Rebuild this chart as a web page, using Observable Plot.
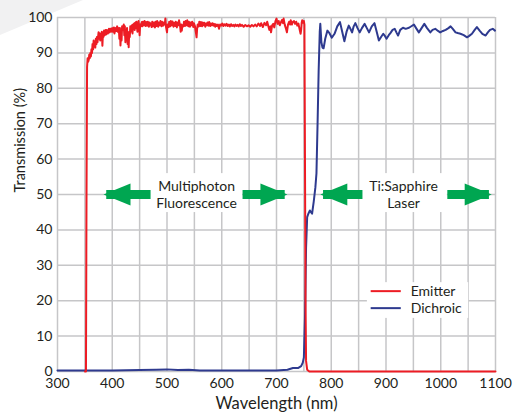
<!DOCTYPE html>
<html><head><meta charset="utf-8">
<script src="https://cdn.jsdelivr.net/npm/d3@7"></script>
<script src="https://cdn.jsdelivr.net/npm/@observablehq/plot@0.6"></script>
<style>
body{margin:0;background:#fff;}
#wrap{position:relative;width:513px;height:415px;overflow:hidden;}
#corner{position:absolute;left:0;top:0;width:90px;height:40px;background:#f1f1f2;clip-path:polygon(0 0,83px 0,0 35px);}
#chart{position:absolute;left:0;top:0;}
</style></head><body>
<div id="wrap"><div id="corner"></div><div id="chart"></div></div>
<script>
// ---- data ----
const emitterWl = [350,352,353,354,355,356,357,358,359,360,361,362,363,364,365,366,367,368,369,370,371,372,373,375,376,377,378,379,380,381,382,383,384,385,386,388,389,390,392,394,395,397,398,400,401,403,404,406,407,409,410,412,413,414,415,416,417,418,419,421,422,423,424,425,426,427,428,429,430,431,432,433,434,436,437,438,439,440,441,442,443,444,445,446,447,448,449,450,451,452,454,455,456,458,459,461,462,464,465,467,468,470,472,473,475,476,478,479,481,482,484,485,487,488,490,491,493,494,496,497,498,500,501,503,504,506,507,509,510,512,513,515,516,518,519,521,522,524,525,526,527,528,530,531,533,534,536,537,539,540,542,543,545,546,548,549,551,552,553,554,555,556,558,559,561,562,564,565,567,568,570,571,573,574,576,577,579,580,582,583,585,586,588,589,591,593,595,597,599,601,603,605,607,609,611,613,615,617,619,621,623,625,627,629,631,633,635,637,640,643,646,649,652,655,658,661,664,667,670,672,675,678,681,683,685,687,689,690,692,694,696,698,700,702,704,706,708,710,712,713,715,717,719,721,723,725,726,728,730,732,734,736,738,740,742,744,745,746,747,749,750,751,752,753,754,756,760,1100];
const emitterT = [0,0,50,86,88.5,87.5,88,89.5,88.5,90,89,91,90,92.5,91,93.5,92,93,91.5,94,92.5,94.5,93,95.8,94,95.5,93.5,95.5,94.5,96,92,95.5,94.5,96.3,95,96.5,95.2,96.5,95.5,96.8,95.8,96.8,96,97,96,97.2,95.5,97,96.2,97.5,96,97,94,97,92.1,96,93.5,97.5,96.5,98,95,97.5,93,96.5,94.5,97,92.5,95,91.6,96,94.5,97.5,96,97.8,95.5,98,97,98.3,96.5,98.5,97,98.8,97.5,96,98.5,99,97.5,95,98,97.5,98.7,97.5,98.8,97.8,99,97.6,98.7,97.7,98.8,97.4,98.6,98.2,97.3,98.8,97.5,98.6,97.2,98.8,97.6,99,97.4,98.6,97.8,99,97.5,98.8,97.7,98.6,98,99.7,97.5,95.8,98,97.3,98.8,97.5,99,97.8,98.9,97.4,98.5,97.6,98.8,97.2,98.6,97.8,99.2,97.5,96,98,96.3,97.8,97.5,98.8,97.6,99,97.8,99.2,97.5,98.8,97.4,98.6,97.8,98.8,97.3,98.4,97.6,96.5,95.5,94.4,96.8,98,97.5,98.8,97.6,98.7,97.5,98.6,97.8,98.5,97.4,98.3,97.8,98.6,97.7,98.7,97.6,98.3,97.8,98.4,97.7,98.2,97.4,98.1,97.6,98,96.8,98,97.7,98.3,97.6,98.1,97.7,98.2,97.6,98,97.5,98.1,97.6,97.9,97.5,98,97.6,97.9,97.5,98.1,97.6,97.9,97.4,97.9,97.5,97.8,97.4,97.9,97.5,98,97.5,98.3,97.6,98.4,97.3,98.5,97.8,98.8,97.6,96.5,97.5,95.8,97.8,98.2,97.2,98.9,99.7,98.2,99,97.8,98.6,99.3,98.4,99.7,98,97,95.8,98,98.8,98,99.2,98,98.8,99,98.2,98.8,97.7,98.3,96.8,95.4,96.5,98.5,99.2,98.5,99,98,60,20,3,0.5,0,0];

const dichroicWl = [300,400,450,480,500,520,540,560,600,700,720,730,740,745,748,750,752,754,756,758,761,763,765,768,771,773,775,777,779,780,782,784,786,789,793,797,801,806,811,816,820,824,828,832,835,838,841,844,848,852,856,861,865,869,874,879,883,887,891,895,898,901,905,908,912,916,919,922,926,931,936,942,947,951,955,960,965,970,975,981,985,990,995,999,1004,1009,1014,1018,1022,1027,1031,1036,1042,1048,1052,1057,1062,1066,1071,1076,1082,1086,1090,1095,1099];
const dichroicT = [0.3,0.3,0.4,0.5,0.6,0.4,0.5,0.3,0.3,0.3,0.5,1,1,1.5,2.5,4,15,35,43.6,44.5,45.5,45,44.6,48,52,56,70,85,96,98.2,93,91.5,91.3,94,96.3,95.5,94.3,95.4,97.5,98.7,96,93.3,96,97.7,96.8,95.8,97.5,98.4,97,95.8,97,98.2,97,95.8,97.5,98.4,96,93.5,94.5,95.4,94.8,94,95,95.6,96.5,96.8,95.8,94.9,96.5,97.1,96.8,97.1,97.6,98,97,95.8,97,98.2,97,95.8,96.5,96.8,96.2,95.8,96.2,96.5,97,97.5,96.8,95.8,95.6,95.4,95,94.4,94.8,95.4,96.5,97.3,96.3,95.4,94.9,95.8,96.5,96.8,96.3];

const xTicks = [300,400,500,600,700,800,900,1000,1100];
const yTicks = [0,10,20,30,40,50,60,70,80,90,100];
const xGrid = [300,350,400,450,500,550,600,650,700,750,800,850,900,950,1000,1050,1100];

const seriesNames = ["Emitter","Dichroic"];
const seriesColors = ["#ed1c24","#2e3a8f"];

// annotations
const regionLabels = ["Multiphoton\nFluorescence","Ti:Sapphire\nLaser"];
const regionCenter = [554, 932];
const regionBoxX1 = [470, 857];
const regionBoxX2 = [638, 1012];
const arrowTipLeft = [384, 780];
const arrowTipRight = [720, 1093];
const arrowLevel = 50;
const arrowColor = "#00a651";

// ---- build tables ----
const emitter = emitterWl.map((w,i)=>({wl:w, t:emitterT[i]}));
const dichroic = dichroicWl.map((w,i)=>({wl:w, t:dichroicT[i]}));
const regions = regionLabels.map((l,i)=>({label:l, cx:regionCenter[i], bx1:regionBoxX1[i], bx2:regionBoxX2[i], tl:arrowTipLeft[i], tr:arrowTipRight[i]}));
const shafts = regions.flatMap(r=>[{x1:r.tl+5, x2:r.bx1}, {x1:r.bx2, x2:r.tr-5}]);
const heads = regions.flatMap(r=>[{x:r.tl, dir:"L"}, {x:r.tr, dir:"R"}]);
const legend = seriesNames.map((n,i)=>({name:n, color:seriesColors[i], y:[22.7,17.9][i]}));

const headL = {draw(ctx){ctx.moveTo(0,0);ctx.lineTo(27,-11);ctx.lineTo(27,11);ctx.closePath();}};
const headR = {draw(ctx){ctx.moveTo(0,0);ctx.lineTo(-27,-11);ctx.lineTo(-27,11);ctx.closePath();}};

const chart = Plot.plot({
  width: 513, height: 415,
  marginLeft: 57, marginRight: 18, marginTop: 17, marginBottom: 44,
  style: {fontFamily: "Lato, 'Open Sans', sans-serif", fontSize: "14px", color: "#231f20", background: "transparent"},
  x: {domain: [300,1100]},
  y: {domain: [0,100]},
  marks: [
    Plot.gridX(xGrid, {stroke: "#c6c6c8", strokeOpacity: 1, strokeWidth: 1.5}),
    Plot.gridY(yTicks, {stroke: "#c6c6c8", strokeOpacity: 1, strokeWidth: 1.5}),
    Plot.axisX(xTicks, {tickSize: 0, tickPadding: 7, label: null, fontSize: 14, tickFormat: d => String(d)}),
    Plot.axisY(yTicks, {tickSize: 0, tickPadding: 5, label: null, fontSize: 14, tickFormat: d => String(d)}),
    // white boxes
    Plot.rect(regions, {x1:"bx1", x2:"bx2", y1:44.9, y2:55.9, fill:"white"}),
    Plot.rect([0], {x1:866, x2:1051, y1:15, y2:25.1, fill:"white"}),
    // data
    Plot.line(dichroic, {x:"wl", y:"t", stroke: seriesColors[1], strokeWidth: 2}),
    Plot.line(emitter, {x:"wl", y:"t", stroke: seriesColors[0], strokeWidth: 2}),
    // arrows
    Plot.link(shafts, {x1:"x1", x2:"x2", y1:arrowLevel, y2:arrowLevel, stroke: arrowColor, strokeWidth: 9}),
    Plot.dot(heads.filter(d=>d.dir==="L"), {x:"x", y:arrowLevel, symbol: headL, fill: arrowColor, stroke: null}),
    Plot.dot(heads.filter(d=>d.dir==="R"), {x:"x", y:arrowLevel, symbol: headR, fill: arrowColor, stroke: null}),
    Plot.text(regions, {x:"cx", y:arrowLevel, text:"label", fontSize: 14, lineHeight: 1.2, fill:"#231f20"}),
    // legend
    Plot.link(legend, {x1:872, x2:927, y1:"y", y2:"y", stroke:"color", strokeWidth:2}),
    Plot.text(legend, {x:945, y:"y", text:"name", textAnchor:"start", fontSize:14, fill:"#231f20"}),
    // axis titles
    Plot.text(["Wavelength (nm)"], {frameAnchor:"bottom", dy:37, fontSize:16.5, fill:"#231f20"}),
    Plot.text(["Transmission (%)"], {frameAnchor:"left", dx:-37, dy:-2, rotate:-90, fontSize:14.5, fill:"#231f20"})
  ]
});
document.getElementById("chart").appendChild(chart);
</script>
</body></html>
